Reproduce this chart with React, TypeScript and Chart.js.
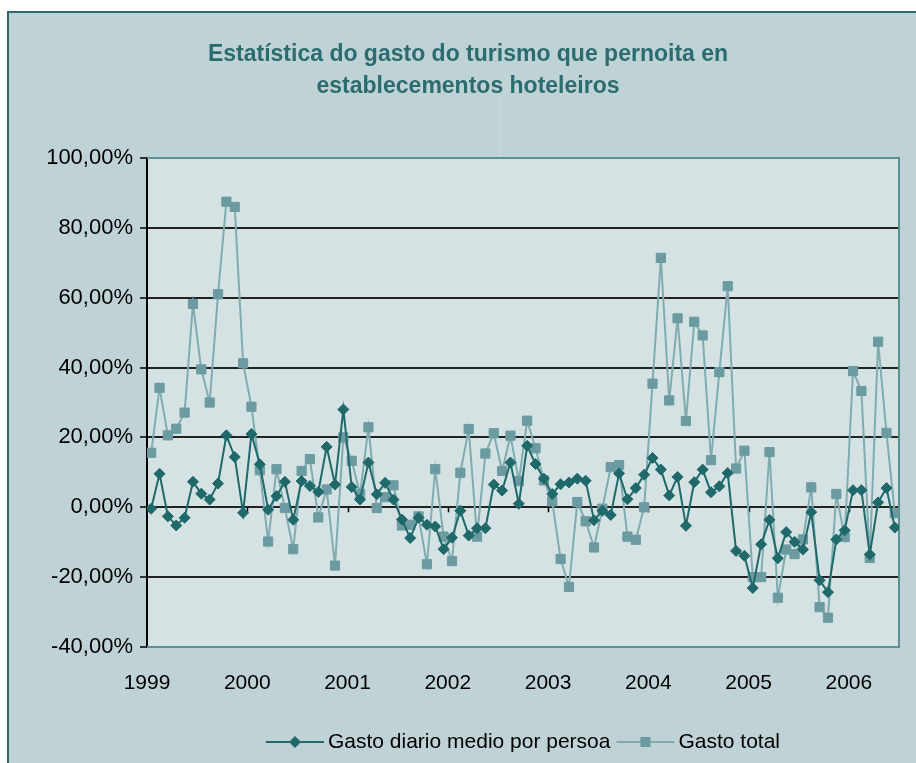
import React, { useEffect, useRef } from 'react';
import { Chart, registerables } from 'chart.js';

Chart.register(...registerables);

const titleLines = ['Estatística do gasto do turismo que pernoita en', 'establecementos hoteleiros'];
const yearLabels = ['1999', '2000', '2001', '2002', '2003', '2004', '2005', '2006'];
const seriesNames = ['Gasto diario medio por persoa', 'Gasto total'];

// Monthly values (%), Jan 1999 .. Jun 2006
const gastoDiario = [
  -0.4, 9.6, -2.6, -5.2, -3.0, 7.3, 3.9, 2.2, 6.8, 20.6, 14.4, -1.6,
  21.0, 12.3, -0.7, 3.2, 7.3, -3.6, 7.5, 6.1, 4.4, 17.3, 6.5, 28.0,
  5.8, 2.2, 12.8, 3.7, 7.0, 2.2, -3.5, -8.8, -3.0, -5.0, -5.5, -12.0,
  -8.7, -1.0, -8.1, -6.0, -6.0, 6.5, 4.8, 12.8, 1.0, 17.6, 12.4, 8.2,
  3.8, 6.6, 7.1, 8.2, 7.6, -3.7, -1.0, -2.2, 9.7, 2.3, 5.5, 9.3,
  14.1, 10.8, 3.4, 8.7, -5.3, 7.2, 10.8, 4.3, 6.0, 9.8, -12.5, -13.9,
  -23.1, -10.6, -3.6, -14.6, -7.1, -9.9, -12.1, -1.4, -20.9, -24.3, -9.2, -6.6,
  4.9, 4.9, -13.5, 1.4, 5.5, -5.8,
];

const gastoTotal = [
  15.6, 34.2, 20.6, 22.5, 27.1, 58.2, 39.5, 30.0, 61.0, 87.5, 86.0, 41.2,
  28.8, 10.6, -9.8, 10.9, -0.2, -12.0, 10.4, 13.8, -2.9, 5.1, -16.7, 20.0,
  13.3, 3.8, 22.9, -0.2, 2.9, 6.3, -5.2, -5.0, -2.6, -16.3, 10.9, -8.4,
  -15.4, 9.9, 22.4, -8.4, 15.4, 21.2, 10.4, 20.5, 7.5, 24.8, 16.9, 7.7,
  1.7, -14.8, -22.8, 1.5, -4.0, -11.5, -0.4, 11.5, 12.1, -8.4, -9.3, 0.0,
  35.4, 71.4, 30.6, 54.1, 24.7, 53.1, 49.2, 13.5, 38.7, 63.3, 11.1, 16.2,
  -20.0, -20.0, 15.8, -25.9, -12.1, -13.4, -9.2, 5.7, -28.6, -31.6, 3.8, -8.5,
  39.0, 33.3, -14.5, 47.4, 21.3, -1.7,
];

const DARK = '#1f696a';
const LIGHT_PT = '#6b9ba0';
const LIGHT_LN = '#80acb0';
const FONT = '"Liberation Sans", Arial, sans-serif';

const toPoints = (arr: number[]) => arr.map((v, i) => ({ x: i + 0.5, y: v }));

const drawMarker = (ctx: CanvasRenderingContext2D, kind: string, x: number, y: number, color: string) => {
  ctx.fillStyle = color;
  ctx.beginPath();
  if (kind === 'rectRot') {
    const r = 6;
    ctx.moveTo(x - r, y);
    ctx.lineTo(x, y - r);
    ctx.lineTo(x + r, y);
    ctx.lineTo(x, y + r);
    ctx.closePath();
  } else {
    const s = 5;
    ctx.rect(x - s, y - s, 2 * s, 2 * s);
  }
  ctx.fill();
};

const chromePlugin = {
  id: 'chrome',
  beforeDraw(chart: any) {
    const { ctx, chartArea: a } = chart;
    ctx.save();
    ctx.fillStyle = '#ffffff';
    ctx.fillRect(0, 0, chart.width, chart.height);
    ctx.fillStyle = '#bfd2d5';
    ctx.fillRect(8, 12, 930, 760);
    ctx.strokeStyle = '#2d6a6d';
    ctx.lineWidth = 2;
    ctx.strokeRect(8, 12, 930, 760);
    ctx.fillStyle = '#d5e2e3';
    ctx.fillRect(a.left, a.top, a.right - a.left, a.bottom - a.top);
    // faint dotted artefact under the title
    ctx.strokeStyle = '#d6e2e3';
    ctx.lineWidth = 1;
    ctx.setLineDash([1, 2]);
    ctx.beginPath();
    ctx.moveTo(500.5, 98);
    ctx.lineTo(500.5, a.top - 2);
    ctx.stroke();
    ctx.setLineDash([]);
    ctx.fillStyle = '#2b6c6f';
    ctx.font = 'bold 23px ' + FONT;
    ctx.textAlign = 'center';
    ctx.textBaseline = 'middle';
    titleLines.forEach((t, k) => ctx.fillText(t, 468, 55 + k * 32));
    ctx.restore();
  },
  beforeDatasetsDraw(chart: any) {
    const { ctx, chartArea: a, scales } = chart;
    ctx.save();
    // plot area frame (top, right, bottom)
    ctx.strokeStyle = '#5b9094';
    ctx.lineWidth = 2;
    ctx.beginPath();
    ctx.moveTo(a.left, a.top);
    ctx.lineTo(a.right, a.top);
    ctx.lineTo(a.right, a.bottom);
    ctx.lineTo(a.left, a.bottom);
    ctx.stroke();
    // small category ticks on the zero line
    const y0 = scales.y.getPixelForValue(0);
    ctx.strokeStyle = '#000';
    ctx.lineWidth = 1.5;
    yearLabels.forEach((_, k) => {
      if (k === 0) return;
      const x = Math.round(scales.x.getPixelForValue(k * 12)) + 0.5;
      ctx.beginPath();
      ctx.moveTo(x, y0);
      ctx.lineTo(x, y0 + 5);
      ctx.stroke();
    });
    ctx.restore();
  },
  afterDraw(chart: any) {
    const { ctx, chartArea: a } = chart;
    ctx.save();
    ctx.font = '21px ' + FONT;
    ctx.textBaseline = 'middle';
    ctx.textAlign = 'left';
    const lineLen = 58;
    const gapText = 4;
    const gapItem = 6;
    const items = chart.data.datasets.map((ds: any) => ({
      label: ds.label as string,
      color: ds.borderColor as string,
      ptColor: ds.pointBackgroundColor as string,
      style: ds.pointStyle as string,
      w: ctx.measureText(ds.label).width,
    }));
    const total = items.reduce((s: number, it: any) => s + lineLen + gapText + it.w, 0) + gapItem * (items.length - 1);
    let x = (a.left + a.right) / 2 - total / 2;
    const y = 742;
    items.forEach((it: any) => {
      ctx.strokeStyle = it.color;
      ctx.lineWidth = 2;
      ctx.beginPath();
      ctx.moveTo(x, y);
      ctx.lineTo(x + lineLen, y);
      ctx.stroke();
      drawMarker(ctx, it.style, x + lineLen / 2, y, it.ptColor);
      x += lineLen + gapText;
      ctx.fillStyle = '#000';
      ctx.fillText(it.label, x, y);
      x += it.w + gapItem;
    });
    ctx.restore();
  },
};

export default function App() {
  const ref = useRef<HTMLCanvasElement>(null);
  useEffect(() => {
    if (!ref.current) return;
    const chart = new Chart(ref.current, {
      type: 'line',
      data: {
        datasets: [
          {
            label: seriesNames[0],
            data: toPoints(gastoDiario),
            borderColor: DARK,
            backgroundColor: DARK,
            pointBackgroundColor: DARK,
            pointBorderColor: DARK,
            borderWidth: 2,
            pointStyle: 'rectRot',
            pointRadius: 5.5,
            pointBorderWidth: 1,
            tension: 0,
          },
          {
            label: seriesNames[1],
            data: toPoints(gastoTotal),
            borderColor: LIGHT_LN,
            backgroundColor: LIGHT_PT,
            pointBackgroundColor: LIGHT_PT,
            pointBorderColor: LIGHT_PT,
            borderWidth: 2,
            pointStyle: 'rect',
            pointRadius: 6.5,
            pointBorderWidth: 1,
            tension: 0,
          },
        ],
      },
      options: {
        responsive: false,
        animation: false,
        layout: { autoPadding: false, padding: { left: 0, top: 158, right: 17, bottom: 0 } },
        plugins: { legend: { display: false }, tooltip: { enabled: false }, title: { display: false } },
        scales: {
          x: {
            type: 'linear',
            min: 0,
            max: 90,
            grid: { display: false, drawTicks: false },
            border: { display: false },
            afterBuildTicks: (scale: any) => {
              scale.ticks = yearLabels.map((_, k) => ({ value: k * 12 }));
            },
            afterFit: (scale: any) => {
              scale.height = 116;
            },
            ticks: {
              autoSkip: false,
              maxRotation: 0,
              padding: 24,
              color: '#000',
              font: { family: FONT, size: 21 },
              callback: (v: any) => yearLabels[Math.round(Number(v) / 12)] ?? '',
            },
          },
          y: {
            type: 'linear',
            min: -40,
            max: 100,
            afterFit: (scale: any) => {
              scale.width = 147;
            },
            grid: { color: '#222', lineWidth: 2, tickLength: 7, tickColor: '#000', tickWidth: 1.5 },
            border: { display: true, color: '#000', width: 2 },
            ticks: {
              stepSize: 20,
              padding: 7,
              color: '#000',
              font: { family: FONT, size: 22 },
              callback: (v: any) => Number(v).toFixed(2).replace('.', ',') + '%',
            },
          },
        },
      },
      plugins: [chromePlugin],
    } as any);
    return () => chart.destroy();
  }, []);
  return (
    <div style={{ position: 'absolute', left: 0, top: 0, width: 916, height: 763, background: '#fff' }}>
      <canvas ref={ref} width={916} height={763} style={{ display: 'block' }} />
    </div>
  );
}
